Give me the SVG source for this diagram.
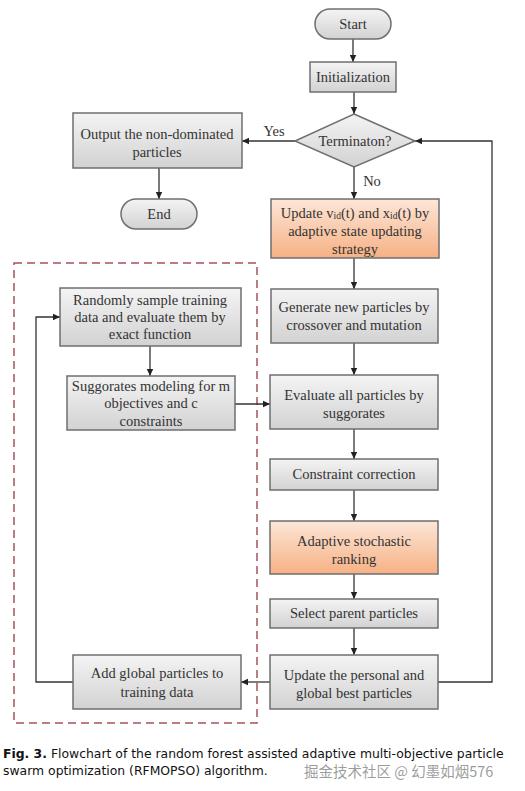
<svg xmlns="http://www.w3.org/2000/svg" width="525" height="791" viewBox="0 0 525 791">
<defs>
<linearGradient id="gray" x1="0" y1="0" x2="0" y2="1">
<stop offset="0" stop-color="#f4f4f4"/><stop offset="1" stop-color="#d2d2d2"/>
</linearGradient>
<linearGradient id="orange" x1="0" y1="0" x2="0" y2="1">
<stop offset="0" stop-color="#fde6d8"/><stop offset="1" stop-color="#f6b184"/>
</linearGradient>
<marker id="arr" markerWidth="8" markerHeight="8" refX="7" refY="4" orient="auto" markerUnits="userSpaceOnUse">
<path d="M0,0.8 L7,4 L0,7.2 Z" fill="#222"/>
</marker>
<style>
.box{fill:url(#gray);stroke:#6f6f6f;stroke-width:1.5}
.obox{fill:url(#orange);stroke:#6f6f6f;stroke-width:1.5}
.t{font-family:"Liberation Serif","Times New Roman",serif;font-size:14.5px;fill:#333;text-anchor:middle;dominant-baseline:central}
.c{fill:none;stroke:#333;stroke-width:1.3}
.sub{font-size:9.5px}
.cap{font-family:"DejaVu Sans",sans-serif;font-size:12.4px;fill:#111}
</style>
</defs>
<rect width="525" height="791" fill="#fff"/>
<rect x="14" y="263" width="243" height="460" fill="none" stroke="#a5525c" stroke-width="1.5" stroke-dasharray="8,5"/>
<g id="connectors">
<path class="c" d="M353,39 V62" marker-end="url(#arr)"/>
<path class="c" d="M354,92 V114" marker-end="url(#arr)"/>
<path class="c" d="M295,141 H242" marker-end="url(#arr)"/>
<path class="c" d="M159,168 V199" marker-end="url(#arr)"/>
<path class="c" d="M354,167 V199" marker-end="url(#arr)"/>
<path class="c" d="M354,258 V289" marker-end="url(#arr)"/>
<path class="c" d="M354,343 V375" marker-end="url(#arr)"/>
<path class="c" d="M354,429 V459" marker-end="url(#arr)"/>
<path class="c" d="M354,490 V521" marker-end="url(#arr)"/>
<path class="c" d="M354,574 V599" marker-end="url(#arr)"/>
<path class="c" d="M354,628 V655" marker-end="url(#arr)"/>
<path class="c" d="M438,682 H492 V141 H415" marker-end="url(#arr)"/>
<path class="c" d="M270,682 H241" marker-end="url(#arr)"/>
<path class="c" d="M73,682 H36 V317 H60" marker-end="url(#arr)"/>
<path class="c" d="M150,346 V376" marker-end="url(#arr)"/>
<path class="c" d="M235,404 H270" marker-end="url(#arr)"/>
<text class="t" x="274" y="131">Yes</text>
<text class="t" x="372" y="181">No</text>
</g>
<g id="start"><rect class="box" x="315" y="9" width="76" height="30" rx="15"/><text class="t" x="353" y="24">Start</text></g>
<g id="init"><rect class="box" x="310" y="62" width="86" height="30"/><text class="t" x="353" y="77">Initialization</text></g>
<g id="termination"><path class="box" d="M354,114 L415,141 L354,167 L295,141 Z"/><text class="t" x="355" y="141">Terminaton?</text></g>
<g id="output"><rect class="box" x="73" y="113" width="169" height="55"/><text class="t" x="157" y="134">Output the non-dominated</text><text class="t" x="157" y="152">particles</text></g>
<g id="end"><rect class="box" x="121" y="199" width="76" height="30" rx="15"/><text class="t" x="159" y="214">End</text></g>
<g id="update-v"><rect class="obox" x="271" y="199" width="168" height="59"/>
<text class="t" x="355" y="213">Update v<tspan class="sub" dy="3">id</tspan><tspan dy="-3">(t) and x</tspan><tspan class="sub" dy="3">id</tspan><tspan dy="-3">(t) by</tspan></text>
<text class="t" x="355" y="231">adaptive state updating</text><text class="t" x="355" y="249">strategy</text></g>
<g id="generate"><rect class="box" x="271" y="289" width="167" height="54"/><text class="t" x="354" y="307">Generate new particles by</text><text class="t" x="354" y="325">crossover and mutation</text></g>
<g id="evaluate"><rect class="box" x="270" y="375" width="168" height="54"/><text class="t" x="354" y="395">Evaluate all particles by</text><text class="t" x="354" y="413">suggorates</text></g>
<g id="constraint"><rect class="box" x="270" y="459" width="168" height="31"/><text class="t" x="354" y="474">Constraint correction</text></g>
<g id="adaptive"><rect class="obox" x="270" y="521" width="168" height="53"/><text class="t" x="354" y="541">Adaptive stochastic</text><text class="t" x="354" y="559">ranking</text></g>
<g id="select"><rect class="box" x="270" y="599" width="168" height="29"/><text class="t" x="354" y="613">Select parent particles</text></g>
<g id="update-best"><rect class="box" x="270" y="655" width="168" height="54"/><text class="t" x="354" y="675">Update the personal and</text><text class="t" x="354" y="693">global best particles</text></g>
<g id="randomly"><rect class="box" x="60" y="288" width="181" height="58"/><text class="t" x="150" y="300">Randomly sample  training</text><text class="t" x="150" y="317">data and evaluate them by</text><text class="t" x="150" y="334">exact function</text></g>
<g id="suggorates"><rect class="box" x="67" y="376" width="168" height="54"/><text class="t" x="151" y="386">Suggorates modeling for m</text><text class="t" x="151" y="403">objectives and c</text><text class="t" x="151" y="421">constraints</text></g>
<g id="add-global"><rect class="box" x="73" y="655" width="168" height="54"/><text class="t" x="157" y="673">Add global particles to</text><text class="t" x="157" y="692">training data</text></g>
<g id="caption">
<text class="cap" x="3" y="758"><tspan font-weight="bold">Fig. 3.</tspan>  Flowchart of the random forest assisted adaptive multi-objective particle</text>
<text class="cap" x="3" y="775">swarm optimization (RFMOPSO) algorithm.</text>
<text x="304" y="777" font-family="'Noto Sans CJK SC',sans-serif" font-size="14.5" fill="#8a8a8a" fill-opacity="0.85">掘金技术社区 @ 幻墨如烟576</text>
</g>
</svg>
